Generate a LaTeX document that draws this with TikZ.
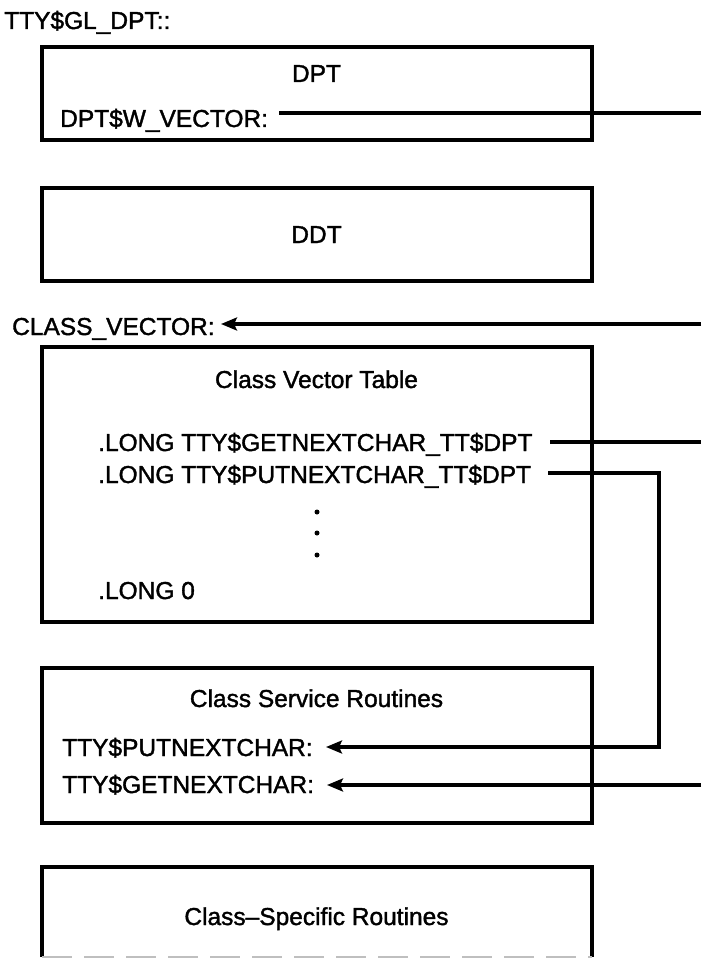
\documentclass[tikz,border=0pt]{standalone}
\usepackage{fontspec}
\setmainfont{Liberation Sans}
\newfontfamily\hvfont{Liberation Sans}[FakeBold=1.5,Ligatures=TeX]
\usetikzlibrary{arrows.meta}
\begin{document}
\begin{tikzpicture}[x=1pt,y=-1pt,
  txt/.style={anchor=base west,inner sep=0pt,font=\hvfont\fontsize{24.5}{29}\selectfont},
  ttl/.style={anchor=base,inner sep=0pt,font=\hvfont\fontsize{24.5}{29}\selectfont},
  boxst/.style={inner sep=0pt,outer sep=0pt,minimum width=550pt},
  boxline/.style={line width=3.2pt,line join=miter},
  conn/.style={line width=3.1pt},
  arr/.style={line width=3.1pt,-{Stealth[length=16pt,width=13pt,inset=3pt]}},
  dotst/.style={circle,fill,inner sep=0pt,minimum size=5pt}]
\useasboundingbox (0,0) rectangle (701,960);
% boxes
\node[boxst,minimum height=93pt] (dpt) at (317,93.5) {};
\node[boxst,minimum height=93pt] (ddt) at (317,234.5) {};
\node[boxst,minimum height=275pt] (cvt) at (317,484.5) {};
\node[boxst,minimum height=155pt] (csr) at (317,745.5) {};
\node[boxst,minimum height=90pt] (csp) at (317,912) {};
\draw[boxline] (dpt.south west) rectangle (dpt.north east);
\draw[boxline] (ddt.south west) rectangle (ddt.north east);
\draw[boxline] (cvt.south west) rectangle (cvt.north east);
\draw[boxline] (csr.south west) rectangle (csr.north east);
\draw[boxline] (csp.south west) -- (csp.north west) -- (csp.north east) -- (csp.south east);
\draw[line width=1.6pt,gray!50,dash pattern=on 30pt off 12pt] (csp.south west) -- (csp.south east);
% texts
\node[txt] (gl) at (4,29) {TTY\$GL\_DPT::};
\node[ttl] (dptt) at (316.5,82) {DPT};
\node[txt] (wv) at (60,127) {DPT\$W\_VECTOR:};
\node[ttl] (ddtt) at (316.5,243) {DDT};
\node[txt] (cv) at (12,335) {CLASS\_VECTOR:};
\node[ttl] (cvtt) at (316.5,388) {Class Vector Table};
\node[txt] (lg) at (98,451) {.LONG TTY\$GETNEXTCHAR\_TT\$DPT};
\node[txt] (lp) at (98,483) {.LONG TTY\$PUTNEXTCHAR\_TT\$DPT};
\node[dotst] (d1) at (317,512) {};
\node[dotst] (d2) at (317,533) {};
\node[dotst] (d3) at (317,555) {};
\node[txt] (l0) at (98,599) {.LONG 0};
\node[ttl] (csrt) at (316.5,707) {Class Service Routines};
\node[txt] (pn) at (62,756) {TTY\$PUTNEXTCHAR:};
\node[txt] (gn) at (62,793) {TTY\$GETNEXTCHAR:};
\node[ttl] (cspt) at (316.5,925) {Class–Specific Routines};
% connector coordinates
\coordinate (wvA) at (279,113);
\coordinate (wvB) at (701,113);
\coordinate (cvA) at (701,324);
\coordinate (cvTip) at (221,324);
\coordinate (lgA) at (550,442);
\coordinate (lgB) at (701,442);
\coordinate (lpA) at (548,473);
\coordinate (lpB) at (659,473);
\coordinate (lpC) at (659,747);
\coordinate (pnTip) at (326,747);
\coordinate (gnA) at (701,785);
\coordinate (gnTip) at (327,785);
% connectors
\draw[conn] (wvA) -- (wvB);
\draw[arr] (cvA) -- (cvTip);
\draw[conn] (lgA) -- (lgB);
\draw[arr,line join=miter] (lpA) -- (lpB) -- (lpC) -- (pnTip);
\draw[arr] (gnA) -- (gnTip);
\end{tikzpicture}
\end{document}
